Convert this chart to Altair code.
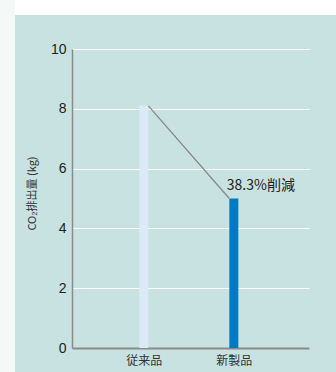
import json
import altair as alt
import pandas as pd

# Products compared and their CO2 emissions (kg)
categories = ["従来品", "新製品"]
emissions = [8.1, 5.0]
bar_colors = ["#dbeaf5", "#0079c2"]
reduction_label = "38.3%削減"
y_ticks = [0, 2, 4, 6, 8, 10]

W, H = 237, 299
PAD = {"left": 72, "top": 49, "right": 336 - 72 - W, "bottom": 372 - 49 - H}

FONT = "Liberation Sans, Noto Sans CJK JP, sans-serif"
JP_FONT = "Noto Sans CJK JP, Liberation Sans, sans-serif"

bars_df = pd.DataFrame({
    "idx": list(range(len(categories))),
    "product": categories,
    "value": emissions,
    "color": bar_colors,
})
link_df = pd.DataFrame({
    "x0": [0], "x1": [1],
    "v0": [emissions[0]], "v1": [emissions[1]],
})
note_df = pd.DataFrame({"idx": [1], "value": [emissions[1]], "label": [reduction_label]})

x_scale = alt.Scale(domain=[-0.743, 1.78])
y_scale = alt.Scale(domain=[0, 10], nice=False)

label_expr = json.dumps(categories, ensure_ascii=False) + "[datum.value]"

x_enc = alt.X(
    "idx:Q",
    scale=x_scale,
    axis=alt.Axis(
        values=[0, 1], labelExpr=label_expr, title=None, grid=False, ticks=False,
        domainColor="#8a8a8a", domainWidth=2, labelPadding=7,
        labelFont=JP_FONT, labelFontSize=12, labelColor="#333333",
    ),
)
y_enc = alt.Y(
    "value:Q",
    scale=y_scale,
    axis=alt.Axis(
        values=y_ticks, title="CO₂排出量 (kg)", grid=True, gridColor="#ffffff",
        gridWidth=1, ticks=False, domainColor="#8a8a8a", domainWidth=1.5,
        labelPadding=6, labelFont=FONT, labelFontSize=14, labelColor="#222222",
        titleFont=JP_FONT, titleFontSize=11, titleFontWeight="normal",
        titleColor="#333333", titleX=-35, titleY=144, titleAlign="center",
    ),
)

bars = alt.Chart(bars_df).mark_bar(size=9).encode(
    x=x_enc,
    y=y_enc,
    color=alt.Color("color:N", scale=None),
)

link = alt.Chart(link_df).mark_rule(
    color="#858585", strokeWidth=1.2, xOffset=4.5, x2Offset=-4.5
).encode(
    x=alt.X("x0:Q", scale=x_scale),
    x2="x1:Q",
    y=alt.Y("v0:Q", scale=y_scale),
    y2="v1:Q",
)

note = alt.Chart(note_df).mark_text(
    align="left", baseline="alphabetic", dx=-7, dy=-9,
    font=JP_FONT, fontSize=14, color="#222222",
).encode(
    x=alt.X("idx:Q", scale=x_scale),
    y=alt.Y("value:Q", scale=y_scale),
    text="label:N",
)

# Page framing: pale strip on the left, white band on top
frame_df = pd.DataFrame({"k": [0]})
left_strip = alt.Chart(frame_df).mark_rect(color="#f4f8f7").encode(
    x=alt.value(-PAD["left"]), x2=alt.value(-PAD["left"] + 15),
    y=alt.value(-PAD["top"]), y2=alt.value(H + PAD["bottom"]),
)
top_band = alt.Chart(frame_df).mark_rect(color="#ffffff").encode(
    x=alt.value(-PAD["left"] + 15), x2=alt.value(W + PAD["right"]),
    y=alt.value(-PAD["top"]), y2=alt.value(-PAD["top"] + 15),
)

chart = alt.layer(bars, link, note, left_strip, top_band).properties(
    width=W, height=H, padding=PAD, autosize="none", background="#c8e2e1",
).configure_view(stroke=None)

chart.save("out.html", embed_options={"renderer": "svg", "actions": False})
